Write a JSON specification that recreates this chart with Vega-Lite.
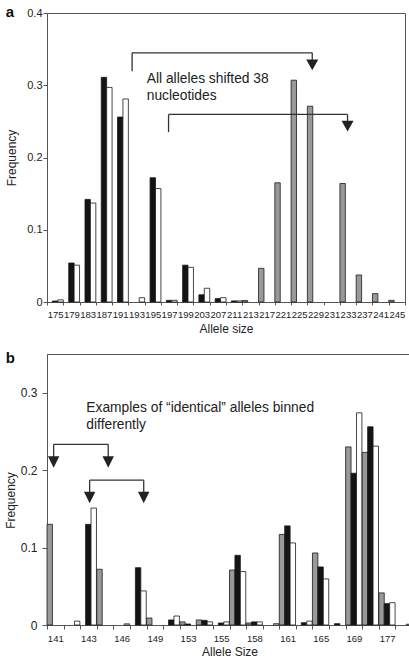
{
  "$schema": "https://vega.github.io/schema/vega-lite/v6.json",
  "padding": {"left": 3, "top": 4, "right": 0, "bottom": 0},
  "spacing": 15,
  "config": {
    "font": "Liberation Sans",
    "view": {"stroke": "#555", "strokeWidth": 1},
    "axis": {
      "labelFont": "Liberation Sans", "titleFont": "Liberation Sans",
      "labelColor": "#222", "titleColor": "#222", "titleFontWeight": "normal",
      "domainColor": "#555", "tickColor": "#555", "grid": false
    }
  },
  "datasets": {
    "a_bars": [
      {"allele": "175", "s": "k", "f": 0.0014}, {"allele": "175", "s": "w", "f": 0.003},
      {"allele": "179", "s": "k", "f": 0.054}, {"allele": "179", "s": "w", "f": 0.051},
      {"allele": "183", "s": "k", "f": 0.142}, {"allele": "183", "s": "w", "f": 0.137},
      {"allele": "187", "s": "k", "f": 0.311}, {"allele": "187", "s": "w", "f": 0.297},
      {"allele": "191", "s": "k", "f": 0.256}, {"allele": "191", "s": "w", "f": 0.281},
      {"allele": "193", "s": "w", "f": 0.006},
      {"allele": "195", "s": "k", "f": 0.172}, {"allele": "195", "s": "w", "f": 0.157},
      {"allele": "197", "s": "k", "f": 0.0023}, {"allele": "197", "s": "w", "f": 0.0023},
      {"allele": "199", "s": "k", "f": 0.051}, {"allele": "199", "s": "w", "f": 0.048},
      {"allele": "203", "s": "k", "f": 0.010}, {"allele": "203", "s": "w", "f": 0.019},
      {"allele": "207", "s": "k", "f": 0.0047}, {"allele": "207", "s": "w", "f": 0.006},
      {"allele": "211", "s": "k", "f": 0.0015}, {"allele": "211", "s": "w", "f": 0.0015},
      {"allele": "213", "s": "g", "f": 0.002},
      {"allele": "217", "s": "g", "f": 0.0466},
      {"allele": "221", "s": "g", "f": 0.165},
      {"allele": "225", "s": "g", "f": 0.307},
      {"allele": "229", "s": "g", "f": 0.271},
      {"allele": "233", "s": "g", "f": 0.164},
      {"allele": "237", "s": "g", "f": 0.0374},
      {"allele": "241", "s": "g", "f": 0.0116},
      {"allele": "245", "s": "g", "f": 0.0023}
    ],
    "a_rules": [
      {"x1": 5.23, "x2": 5.23, "f": 0.3195, "f2": 0.3449},
      {"x1": 5.23, "x2": 16.3, "f": 0.3449, "f2": 0.3449},
      {"x1": 16.3, "x2": 16.3, "f": 0.3449, "f2": 0.334},
      {"x1": 7.47, "x2": 7.47, "f": 0.2351, "f2": 0.2596},
      {"x1": 7.47, "x2": 18.47, "f": 0.2596, "f2": 0.2596},
      {"x1": 18.47, "x2": 18.47, "f": 0.2596, "f2": 0.249}
    ],
    "a_arrows": [{"xi": 16.3, "f": 0.3283}, {"xi": 18.47, "f": 0.2434}],
    "a_text": [
      {"xi": 6.13, "f": 0.3035, "t": "All alleles shifted 38"},
      {"xi": 6.13, "f": 0.2794, "t": "nucleotides"}
    ],
    "a_label": [{"xi": -2.53, "f": 0.3947, "t": "a"}],
    "b_bars": [
      {"allele": "141", "s": "g", "f": 0.13},
      {"allele": "142", "s": "w", "f": 0.005},
      {"allele": "143", "s": "k", "f": 0.13}, {"allele": "143", "s": "w", "f": 0.151},
      {"allele": "144", "s": "g", "f": 0.072},
      {"allele": "146", "s": "w", "f": 0.0015},
      {"allele": "147", "s": "k", "f": 0.074}, {"allele": "147", "s": "w", "f": 0.044},
      {"allele": "149", "s": "g", "f": 0.009},
      {"allele": "151", "s": "k", "f": 0.0065}, {"allele": "151", "s": "w", "f": 0.0116},
      {"allele": "153", "s": "g", "f": 0.004}, {"allele": "153", "s": "k", "f": 0.0013},
      {"allele": "154", "s": "g", "f": 0.0065}, {"allele": "154", "s": "k", "f": 0.006}, {"allele": "154", "s": "w", "f": 0.004},
      {"allele": "155", "s": "k", "f": 0.0026}, {"allele": "155", "s": "w", "f": 0.004},
      {"allele": "157", "s": "g", "f": 0.071}, {"allele": "157", "s": "k", "f": 0.090}, {"allele": "157", "s": "w", "f": 0.069},
      {"allele": "158", "s": "g", "f": 0.0026}, {"allele": "158", "s": "k", "f": 0.004}, {"allele": "158", "s": "w", "f": 0.004},
      {"allele": "159", "s": "w", "f": 0.0017},
      {"allele": "161", "s": "g", "f": 0.117}, {"allele": "161", "s": "k", "f": 0.128}, {"allele": "161", "s": "w", "f": 0.106},
      {"allele": "163", "s": "k", "f": 0.003}, {"allele": "163", "s": "w", "f": 0.005},
      {"allele": "165", "s": "g", "f": 0.093}, {"allele": "165", "s": "k", "f": 0.075}, {"allele": "165", "s": "w", "f": 0.0595},
      {"allele": "167", "s": "k", "f": 0.0017},
      {"allele": "169", "s": "g", "f": 0.230}, {"allele": "169", "s": "k", "f": 0.196}, {"allele": "169", "s": "w", "f": 0.274},
      {"allele": "173", "s": "g", "f": 0.223}, {"allele": "173", "s": "k", "f": 0.256}, {"allele": "173", "s": "w", "f": 0.231},
      {"allele": "177", "s": "g", "f": 0.0414}, {"allele": "177", "s": "k", "f": 0.0276}, {"allele": "177", "s": "w", "f": 0.0288},
      {"allele": "179", "s": "w", "f": 0.001}
    ],
    "b_rules": [
      {"x1": 0.4, "x2": 3.69, "f": 0.2333, "f2": 0.2333},
      {"x1": 0.4, "x2": 0.4, "f": 0.2333, "f2": 0.216},
      {"x1": 3.69, "x2": 3.69, "f": 0.2333, "f2": 0.216},
      {"x1": 2.57, "x2": 5.83, "f": 0.187, "f2": 0.187},
      {"x1": 2.57, "x2": 2.57, "f": 0.187, "f2": 0.17},
      {"x1": 5.83, "x2": 5.83, "f": 0.187, "f2": 0.17}
    ],
    "b_arrows": [
      {"xi": 0.4, "f": 0.2106}, {"xi": 3.69, "f": 0.2106},
      {"xi": 2.57, "f": 0.1647}, {"xi": 5.83, "f": 0.1647}
    ],
    "b_text": [
      {"xi": 2.37, "f": 0.2753, "t": "Examples of “identical” alleles binned"},
      {"xi": 2.37, "f": 0.2533, "t": "differently"}
    ],
    "b_label": [{"xi": -2.49, "f": 0.338, "t": "b"}]
  },
  "vconcat": [
    {
      "width": 358,
      "height": 289,
      "resolve": {"scale": {"x": "independent"}},
      "layer": [
        {
          "data": {"name": "a_bars"},
          "mark": {"type": "bar", "stroke": "#1a1a1a", "strokeWidth": 0.8},
          "encoding": {
            "x": {
              "field": "allele", "type": "nominal",
              "scale": {"domain": ["175","179","183","187","191","193","195","197","199","203","207","211","213","217","221","225","229","231","233","237","241","245"], "paddingInner": 0, "paddingOuter": 0},
              "axis": {"title": "Allele size", "labelAngle": 0, "labelFontSize": 9.5, "titleFontSize": 12, "tickBand": "extent", "tickSize": 3, "labelPadding": 4, "titlePadding": 5}
            },
            "xOffset": {"field": "s", "type": "nominal", "scale": {"domain": ["g","k","w"], "paddingInner": 0, "paddingOuter": 0}},
            "y": {
              "field": "f", "type": "quantitative",
              "scale": {"domain": [0, 0.4], "nice": false},
              "axis": {"title": "Frequency", "values": [0, 0.1, 0.2, 0.3, 0.4], "format": ".1~f", "tickSize": 4, "labelPadding": 1, "labelFontSize": 11, "titleFontSize": 12, "titlePadding": 8}
            },
            "color": {"field": "s", "type": "nominal", "scale": {"domain": ["g","k","w"], "range": ["#999999","#141414","#ffffff"]}, "legend": null}
          }
        },
        {
          "data": {"name": "a_rules"},
          "mark": {"type": "rule", "color": "#333", "strokeWidth": 1.3},
          "encoding": {
            "x": {"field": "x1", "type": "quantitative", "scale": {"domain": [0, 22], "nice": false, "zero": false}, "axis": null},
            "x2": {"field": "x2"},
            "y": {"field": "f", "type": "quantitative", "scale": {"domain": [0, 0.4], "nice": false}},
            "y2": {"field": "f2"}
          }
        },
        {
          "data": {"name": "a_arrows"},
          "mark": {"type": "point", "shape": "M-1,-0.9L1,-0.9L0,0.9Z", "size": 144, "filled": true, "color": "#222", "opacity": 1},
          "encoding": {
            "x": {"field": "xi", "type": "quantitative", "scale": {"domain": [0, 22], "nice": false, "zero": false}, "axis": null},
            "y": {"field": "f", "type": "quantitative", "scale": {"domain": [0, 0.4], "nice": false}}
          }
        },
        {
          "data": {"name": "a_text"},
          "mark": {"type": "text", "align": "left", "baseline": "alphabetic", "fontSize": 13.8, "color": "#222"},
          "encoding": {
            "x": {"field": "xi", "type": "quantitative", "scale": {"domain": [0, 22], "nice": false, "zero": false}, "axis": null},
            "y": {"field": "f", "type": "quantitative", "scale": {"domain": [0, 0.4], "nice": false}},
            "text": {"field": "t"}
          }
        },
        {
          "data": {"name": "a_label"},
          "mark": {"type": "text", "align": "left", "baseline": "alphabetic", "fontSize": 15, "fontWeight": "bold", "color": "#111"},
          "encoding": {
            "x": {"field": "xi", "type": "quantitative", "scale": {"domain": [0, 22], "nice": false, "zero": false}, "axis": null},
            "y": {"field": "f", "type": "quantitative", "scale": {"domain": [0, 0.4], "nice": false}},
            "text": {"field": "t"}
          }
        }
      ]
    },
    {
      "width": 365,
      "height": 271,
      "resolve": {"scale": {"x": "independent"}},
      "layer": [
        {
          "data": {"name": "b_bars"},
          "mark": {"type": "bar", "stroke": "#1a1a1a", "strokeWidth": 0.8},
          "encoding": {
            "x": {
              "field": "allele", "type": "nominal",
              "scale": {"domain": ["141","142","143","144","146","147","149","151","153","154","155","157","158","159","161","163","165","167","169","173","177","179"], "paddingInner": 0, "paddingOuter": 0},
              "axis": {"title": "Allele Size", "labelAngle": 0, "labelFontSize": 9.5, "titleFontSize": 12, "tickBand": "extent", "tickSize": 4, "labelPadding": 4, "titlePadding": 4,
                       "labelExpr": "indexof(['141','143','146','149','153','155','158','161','165','169','177'], datum.value) >= 0 ? datum.label : ''"}
            },
            "xOffset": {"field": "s", "type": "nominal", "scale": {"domain": ["g","k","w"], "paddingInner": 0, "paddingOuter": 0}},
            "y": {
              "field": "f", "type": "quantitative",
              "scale": {"domain": [0, 0.35], "nice": false},
              "axis": {"title": "Frequency", "values": [0, 0.1, 0.2, 0.3], "format": ".1~f", "tickSize": 5, "labelPadding": 5, "labelFontSize": 12, "titleFontSize": 12, "titlePadding": 3, "titleY": 146}
            },
            "color": {"field": "s", "type": "nominal", "scale": {"domain": ["g","k","w"], "range": ["#8a8a8a","#4a4a4a","#ffffff"]}, "legend": null}
          }
        },
        {
          "data": {"name": "b_rules"},
          "mark": {"type": "rule", "color": "#333", "strokeWidth": 1.3},
          "encoding": {
            "x": {"field": "x1", "type": "quantitative", "scale": {"domain": [0, 22], "nice": false, "zero": false}, "axis": null},
            "x2": {"field": "x2"},
            "y": {"field": "f", "type": "quantitative", "scale": {"domain": [0, 0.35], "nice": false}},
            "y2": {"field": "f2"}
          }
        },
        {
          "data": {"name": "b_arrows"},
          "mark": {"type": "point", "shape": "M-1,-1L1,-1L0,1Z", "size": 130, "filled": true, "color": "#222", "opacity": 1},
          "encoding": {
            "x": {"field": "xi", "type": "quantitative", "scale": {"domain": [0, 22], "nice": false, "zero": false}, "axis": null},
            "y": {"field": "f", "type": "quantitative", "scale": {"domain": [0, 0.35], "nice": false}}
          }
        },
        {
          "data": {"name": "b_text"},
          "mark": {"type": "text", "align": "left", "baseline": "alphabetic", "fontSize": 13.8, "color": "#222"},
          "encoding": {
            "x": {"field": "xi", "type": "quantitative", "scale": {"domain": [0, 22], "nice": false, "zero": false}, "axis": null},
            "y": {"field": "f", "type": "quantitative", "scale": {"domain": [0, 0.35], "nice": false}},
            "text": {"field": "t"}
          }
        },
        {
          "data": {"name": "b_label"},
          "mark": {"type": "text", "align": "left", "baseline": "alphabetic", "fontSize": 15, "fontWeight": "bold", "color": "#111"},
          "encoding": {
            "x": {"field": "xi", "type": "quantitative", "scale": {"domain": [0, 22], "nice": false, "zero": false}, "axis": null},
            "y": {"field": "f", "type": "quantitative", "scale": {"domain": [0, 0.35], "nice": false}},
            "text": {"field": "t"}
          }
        }
      ]
    }
  ]
}
